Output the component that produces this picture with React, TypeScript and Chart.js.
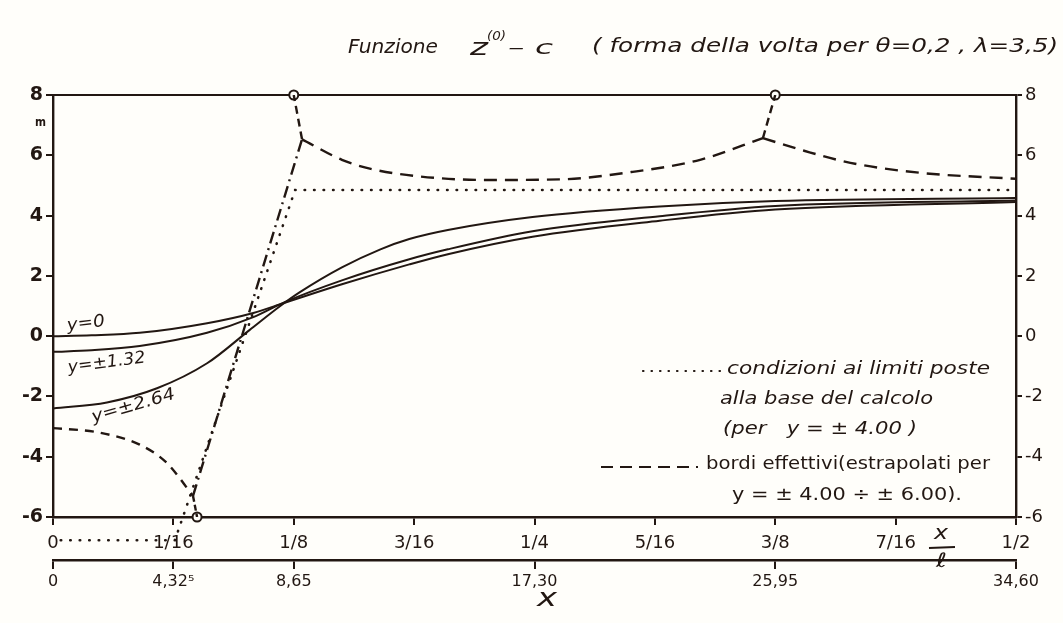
import React, { useEffect, useRef } from "react";
import { Chart, registerables } from "chart.js";
Chart.register(...registerables);

const INK = "#221712";
const PAPER = "#fffefa";

// ---- axes / ticks ----
const xlTickValues = [0, 1 / 16, 1 / 8, 3 / 16, 1 / 4, 5 / 16, 3 / 8, 7 / 16, 1 / 2];
const xlTickLabels = ["0", "1/16", "1/8", "3/16", "1/4", "5/16", "3/8", "7/16", "1/2"];
const xMetreTicks = [0, 4.325, 8.65, 17.3, 25.95, 34.6];
const xMetreLabels = ["0", "4,32⁵", "8,65", "17,30", "25,95", "34,60"];
const yTickValues = [-6, -4, -2, 0, 2, 4, 6, 8];

// ---- solid curves z(0)-c (x in units of x/l) ----
const xCurveY0 = [0, 0.02, 0.045, 0.08, 0.104, 0.12, 0.15, 0.185, 0.205, 0.249, 0.315, 0.375, 0.5];
const zCurveY0 = [0, 0.03, 0.11, 0.43, 0.77, 1.1, 1.72, 2.38, 2.72, 3.3, 3.83, 4.2, 4.45];
const xCurveY132 = [0, 0.02, 0.045, 0.08, 0.104, 0.12, 0.15, 0.185, 0.205, 0.249, 0.315, 0.375, 0.5];
const zCurveY132 = [-0.52, -0.47, -0.33, 0.11, 0.63, 1.12, 1.85, 2.55, 2.88, 3.48, 3.98, 4.32, 4.5];
const xCurveY264 = [0, 0.028, 0.054, 0.08, 0.102, 0.118, 0.128, 0.15, 0.17, 0.185, 0.205, 0.249, 0.315, 0.375, 0.5];
const zCurveY264 = [-2.4, -2.2, -1.73, -0.9, 0.2, 1.0, 1.45, 2.28, 2.88, 3.22, 3.52, 3.95, 4.3, 4.48, 4.58];

// ---- dashed: bordi effettivi ----
const xEdgeLeft = [0, 0.024, 0.045, 0.059, 0.0727];
const zEdgeLeft = [-3.05, -3.2, -3.6, -4.2, -5.3];
const xEdgeBottomLink = [0.0727, 0.0748];
const zEdgeBottomLink = [-5.3, -6];
const xEdgeSteep = [0.0727, 0.1293];
const zEdgeSteep = [-5.3, 6.53];
const xEdgeTopLink1 = [0.1293, 0.125];
const zEdgeTopLink1 = [6.53, 8];
const xEdgeMiddle = [0.1293, 0.15, 0.165, 0.19, 0.225, 0.263, 0.301, 0.336, 0.3686];
const zEdgeMiddle = [6.53, 5.85, 5.55, 5.3, 5.18, 5.2, 5.45, 5.85, 6.57];
const xEdgeTopLink2 = [0.3686, 0.375];
const zEdgeTopLink2 = [6.57, 8];
const xEdgeRight = [0.3686, 0.39, 0.414, 0.45, 0.5];
const zEdgeRight = [6.57, 6.15, 5.75, 5.42, 5.22];

// ---- dotted: condizioni ai limiti ----
const xBoundary = [0.004, 0.0633, 0.1257, 0.5];
const zBoundary = [-6.77, -6.77, 4.85, 4.85];

// ---- circle markers ----
const xCircles = [0.125, 0.375, 0.0748];
const zCircles = [8, 8, -6];

function pts(xs: number[], ys: number[]) {
  return xs.map((x, i) => ({ x, y: ys[i] }));
}

function drawFit(
  ctx: CanvasRenderingContext2D,
  text: string,
  x: number,
  y: number,
  w: number,
  font: string,
  angle = 0
) {
  ctx.save();
  ctx.font = font;
  const m = ctx.measureText(text).width || 1;
  ctx.translate(x, y);
  if (angle) ctx.rotate(angle);
  ctx.scale(w / m, 1);
  ctx.textAlign = "left";
  ctx.textBaseline = "middle";
  ctx.fillStyle = INK;
  ctx.fillText(text, 0, 0);
  ctx.restore();
}

const HAND = '"DejaVu Sans", sans-serif';

const framePlugin = {
  id: "frame",
  beforeDatasetsDraw(chart: any) {
    const { ctx, chartArea: a } = chart;
    ctx.save();
    ctx.strokeStyle = INK;
    ctx.lineWidth = 2;
    ctx.beginPath();
    ctx.moveTo(a.left, a.top);
    ctx.lineTo(a.right, a.top);
    ctx.stroke();
    ctx.restore();
  },
  afterDraw(chart: any) {
    const ctx: CanvasRenderingContext2D = chart.ctx;
    ctx.save();
    // title
    drawFit(ctx, "Funzione", 348, 48, 90, `italic 20px ${HAND}`);
    drawFit(ctx, "z", 470, 49, 18, `italic 23px ${HAND}`);
    drawFit(ctx, "(0)", 487, 37, 19, `italic 13px ${HAND}`);
    drawFit(ctx, "– c", 508, 49, 45, `italic 20px ${HAND}`);
    drawFit(ctx, "( forma della volta per θ=0,2 , λ=3,5)", 592, 47, 466, `italic 20px ${HAND}`);
    // unit
    drawFit(ctx, "m", 35, 123, 11, `bold 12px ${HAND}`);
    // curve labels
    drawFit(ctx, "y=0", 67, 326, 38, `italic 17px ${HAND}`, -0.12);
    drawFit(ctx, "y=±1.32", 68, 368, 78, `italic 17px ${HAND}`, -0.13);
    drawFit(ctx, "y=±2.64", 92, 418, 86, `italic 17px ${HAND}`, -0.28);
    // legend
    ctx.strokeStyle = INK;
    ctx.lineWidth = 2.2;
    ctx.lineCap = "round";
    ctx.setLineDash([0.5, 8]);
    ctx.beginPath();
    ctx.moveTo(643, 371);
    ctx.lineTo(722, 371);
    ctx.stroke();
    ctx.setLineDash([12, 7]);
    ctx.lineCap = "butt";
    ctx.beginPath();
    ctx.moveTo(601, 467);
    ctx.lineTo(698, 467);
    ctx.stroke();
    ctx.setLineDash([]);
    drawFit(ctx, "condizioni ai limiti poste", 727, 370, 263, `italic 17px ${HAND}`);
    drawFit(ctx, "alla base del calcolo", 720, 400, 213, `italic 17px ${HAND}`);
    drawFit(ctx, "(per   y = ± 4.00 )", 723, 429, 194, `italic 18px ${HAND}`);
    drawFit(ctx, "bordi effettivi(estrapolati per", 706, 465, 284, `17px ${HAND}`);
    drawFit(ctx, "y = ± 4.00 ÷ ± 6.00).", 732, 495, 230, `18px ${HAND}`);
    // x/l label
    drawFit(ctx, "x", 934, 534, 14, `italic 20px ${HAND}`);
    ctx.lineWidth = 2;
    ctx.beginPath();
    ctx.moveTo(929, 548);
    ctx.lineTo(955, 547);
    ctx.stroke();
    drawFit(ctx, "ℓ", 936, 562, 11, `italic 20px ${HAND}`);
    // x label of metre axis
    drawFit(ctx, "x", 537, 600, 20, `italic 24px ${HAND}`);
    ctx.restore();
  },
};

export default function App() {
  const ref = useRef<HTMLCanvasElement | null>(null);
  useEffect(() => {
    if (!ref.current) return;
    const solid = (xs: number[], ys: number[]) => ({
      data: pts(xs, ys),
      borderColor: INK,
      borderWidth: 2,
      pointRadius: 0,
      cubicInterpolationMode: "monotone" as const,
      fill: false,
      xAxisID: "x",
      yAxisID: "y",
    });
    const dashed = (xs: number[], ys: number[], dash: number[] = [13, 8]) => ({
      data: pts(xs, ys),
      borderColor: INK,
      borderWidth: 2.4,
      borderDash: dash,
      pointRadius: 0,
      cubicInterpolationMode: "monotone" as const,
      fill: false,
      xAxisID: "x",
      yAxisID: "y",
    });
    const chart = new Chart(ref.current, {
      type: "line",
      data: {
        datasets: [
          solid(xCurveY0, zCurveY0),
          solid(xCurveY132, zCurveY132),
          solid(xCurveY264, zCurveY264),
          dashed(xEdgeLeft, zEdgeLeft, [9, 7]),
          dashed(xEdgeBottomLink, zEdgeBottomLink, [6, 3]),
          dashed(xEdgeSteep, zEdgeSteep, [12, 5, 2, 5]),
          dashed(xEdgeTopLink1, zEdgeTopLink1, [8, 5]),
          dashed(xEdgeMiddle, zEdgeMiddle),
          dashed(xEdgeTopLink2, zEdgeTopLink2, [8, 5]),
          dashed(xEdgeRight, zEdgeRight),
          {
            data: pts(xBoundary, zBoundary),
            borderColor: INK,
            borderWidth: 2.6,
            borderDash: [0.5, 9],
            borderCapStyle: "round",
            pointRadius: 0,
            tension: 0,
            fill: false,
            clip: false,
            xAxisID: "x",
            yAxisID: "y",
          } as any,
          {
            data: pts(xCircles, zCircles),
            showLine: false,
            pointRadius: 4.5,
            pointStyle: "circle",
            pointBackgroundColor: PAPER,
            pointBorderColor: INK,
            pointBorderWidth: 2,
            clip: false,
            xAxisID: "x",
            yAxisID: "y",
          } as any,
        ],
      },
      options: {
        animation: false,
        responsive: false,
        events: [],
        layout: { padding: { top: 95, left: 0, right: 0, bottom: 0 } },
        plugins: { legend: { display: false }, tooltip: { enabled: false }, title: { display: false } },
        scales: {
          x: {
            type: "linear",
            position: "bottom",
            weight: 0,
            min: 0,
            max: 0.5,
            afterBuildTicks: (s: any) => {
              s.ticks = xlTickValues.map((v) => ({ value: v }));
            },
            afterFit: (s: any) => {
              s.height = 43;
            },
            ticks: {
              autoSkip: false,
              maxRotation: 0,
              padding: 8,
              color: INK,
              font: { family: HAND, size: 18 },
              callback: (_v: any, i: number) => xlTickLabels[i],
            },
            grid: { drawOnChartArea: false, drawTicks: true, tickLength: 8, color: INK, lineWidth: 2 },
            border: { display: true, color: INK, width: 2.4 },
          },
          x2: {
            type: "linear",
            position: "bottom",
            weight: 1,
            min: 0,
            max: 34.6,
            afterBuildTicks: (s: any) => {
              s.ticks = xMetreTicks.map((v) => ({ value: v }));
            },
            afterFit: (s: any) => {
              s.height = 63;
            },
            ticks: {
              autoSkip: false,
              maxRotation: 0,
              padding: 3,
              color: INK,
              font: { family: HAND, size: 16 },
              callback: (_v: any, i: number) => xMetreLabels[i],
            },
            grid: { drawOnChartArea: false, drawTicks: true, tickLength: 9, color: INK, lineWidth: 2 },
            border: { display: true, color: INK, width: 2.4 },
          },
          y: {
            type: "linear",
            position: "left",
            min: -6,
            max: 8,
            afterBuildTicks: (s: any) => {
              s.ticks = yTickValues.map((v) => ({ value: v }));
            },
            afterFit: (s: any) => {
              s.width = 53;
            },
            ticks: {
              padding: 3,
              color: INK,
              font: { family: HAND, size: 19, weight: "bold" },
              callback: (v: any) => String(v),
            },
            grid: { drawOnChartArea: false, drawTicks: true, tickLength: 7, color: INK, lineWidth: 2 },
            border: { display: true, color: INK, width: 2.4 },
          },
          y2: {
            type: "linear",
            position: "right",
            min: -6,
            max: 8,
            afterBuildTicks: (s: any) => {
              s.ticks = yTickValues.map((v) => ({ value: v }));
            },
            afterFit: (s: any) => {
              s.width = 47;
            },
            ticks: {
              padding: 3,
              color: INK,
              font: { family: HAND, size: 18 },
              callback: (v: any) => String(v),
            },
            grid: { drawOnChartArea: false, drawTicks: true, tickLength: 6, color: INK, lineWidth: 2 },
            border: { display: true, color: INK, width: 2.4 },
          },
        },
      } as any,
      plugins: [framePlugin],
    });
    return () => chart.destroy();
  }, []);
  return (
    <div style={{ position: "absolute", left: 0, top: 0, width: 1063, height: 623, background: PAPER }}>
      <canvas ref={ref} width={1063} height={623} style={{ display: "block" }} />
    </div>
  );
}
